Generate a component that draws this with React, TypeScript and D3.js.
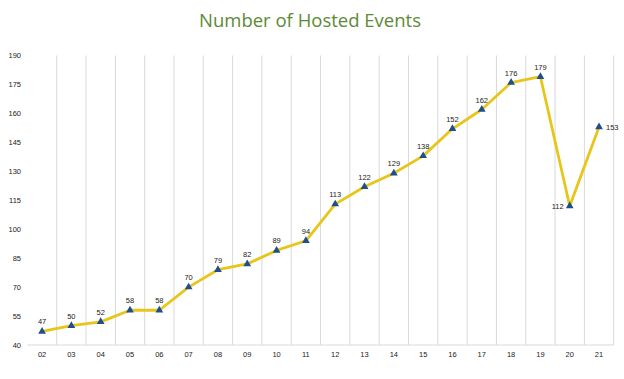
import React from "react";
import * as d3 from "d3";

const categories = ["02","03","04","05","06","07","08","09","10","11","12","13","14","15","16","17","18","19","20","21"];
const values = [47,50,52,58,58,70,79,82,89,94,113,122,129,138,152,162,176,179,112,153];
const yTicks = [40,55,70,85,100,115,130,145,160,175,190];
const title = "Number of Hosted Events";

const W = 624, H = 379;
const M = { left: 27.4, right: 10.3, top: 55.5, bottom: 34 };

export default function App() {
  const x = d3.scaleBand<string>().domain(categories).range([M.left, W - M.right]);
  const y = d3.scaleLinear().domain([40, 190]).range([H - M.bottom, M.top]);
  const cx = (c: string) => (x(c) as number) + x.bandwidth() / 2;
  const line = d3.line<number>().x((_, i) => cx(categories[i])).y(d => y(d));
  const tri = d3.symbol().type(d3.symbolTriangle).size(26)();
  const font = "'Liberation Sans', Arial, sans-serif";
  const bounds = categories.slice(1).map(c => x(c) as number).concat([W - M.right]);

  return (
    <svg width={W} height={H} style={{ position: "absolute", left: 0, top: 0, background: "#fff" }}>
      <text x={W / 2 - 2} y={27} textAnchor="middle" fontFamily="'Open Sans', sans-serif" fontSize={18.5} fill="#5d8a35">{title}</text>
      {bounds.map((b, i) => (
        <line key={i} x1={b} x2={b} y1={y(190)} y2={y(40)} stroke="#d9d9d9" strokeWidth={1} />
      ))}
      <line x1={M.left} x2={W - M.right} y1={y(40)} y2={y(40)} stroke="#d9d9d9" strokeWidth={1} />
      {yTicks.map(t => (
        <text key={t} x={21} y={y(t) + 2.5} textAnchor="end" fontFamily={font} fontSize={7.5} fill="#222">{t}</text>
      ))}
      {categories.map(c => (
        <text key={c} x={cx(c)} y={357} textAnchor="middle" fontFamily={font} fontSize={7.5} fill="#222">{c}</text>
      ))}
      <path d={line(values) || ""} fill="none" stroke="#e8c51a" strokeWidth={2.8} strokeLinejoin="round" />
      {values.map((v, i) => (
        <path key={i} d={tri || ""} transform={`translate(${cx(categories[i])},${y(v)})`} fill="#1f4e8c" />
      ))}
      {values.map((v, i) => {
        const c = categories[i];
        let tx = cx(c), ty = y(v) - 7, anchor: "middle" | "start" | "end" = "middle";
        if (c === "20") { tx = cx(c) - 6; ty = y(v) + 3; anchor = "end"; }
        if (c === "21") { tx = cx(c) + 7; ty = y(v) + 3; anchor = "start"; }
        return (
          <text key={c} x={tx} y={ty} textAnchor={anchor} fontFamily={font} fontSize={7.5} fill="#222">{v}</text>
        );
      })}
    </svg>
  );
}
